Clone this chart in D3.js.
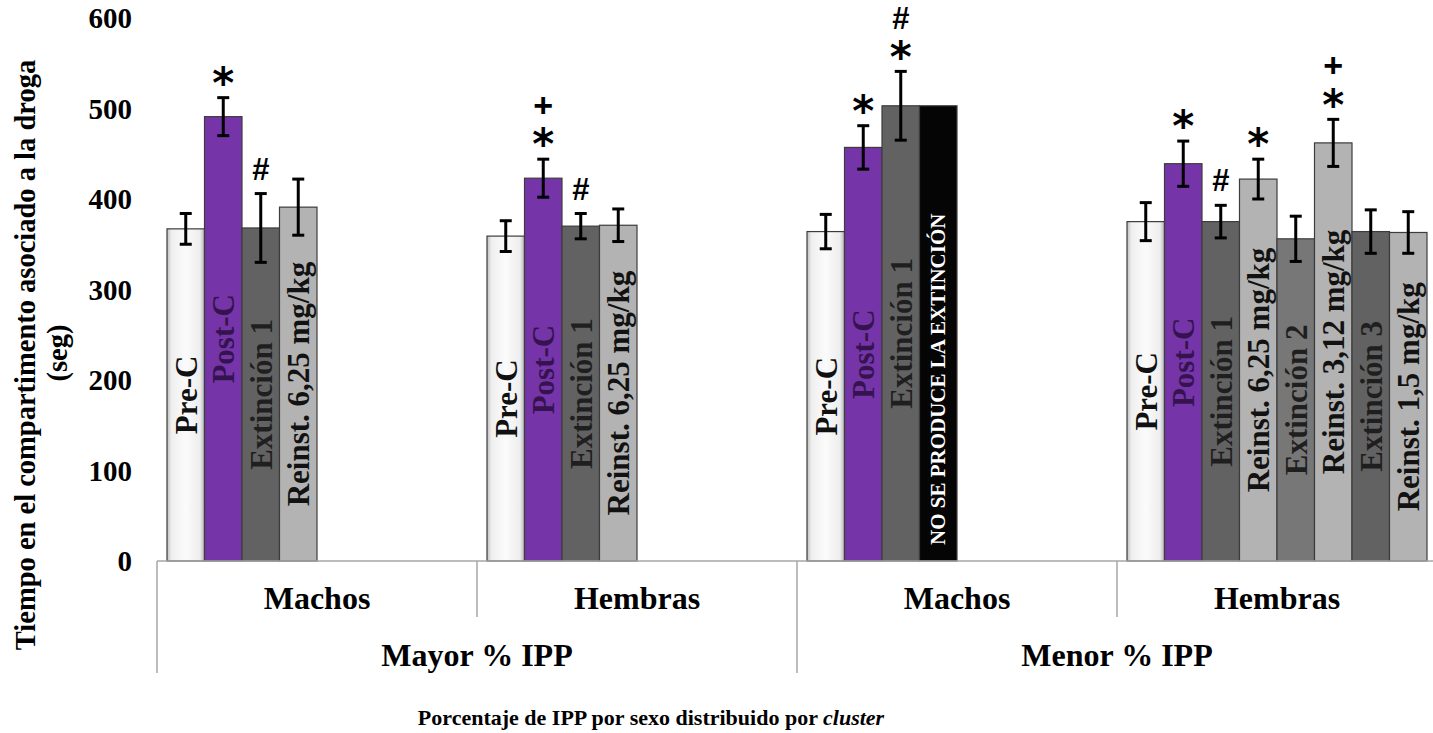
<!DOCTYPE html>
<html>
<head>
<meta charset="utf-8">
<script src="https://cdn.jsdelivr.net/npm/d3@7"></script>
<style>
  html, body { margin: 0; padding: 0; background: #fff; }
  svg { display: block; }
  text { font-family: "Liberation Serif", "Times New Roman", serif; font-weight: bold; }
</style>
</head>
<body>
<svg id="chart"></svg>
<script>
const width = 1433, height = 733;

// categorias del eje x
const sexos = ["Machos", "Hembras", "Machos", "Hembras"];
const clusters = ["Mayor % IPP", "Menor % IPP"];

// fases de cada grupo (etiqueta dentro de la barra)
const fases = [
  ["Pre-C", "Post-C", "Extinción 1", "Reinst. 6,25 mg/kg"],
  ["Pre-C", "Post-C", "Extinción 1", "Reinst. 6,25 mg/kg"],
  ["Pre-C", "Post-C", "Extinción 1", "NO SE PRODUCE LA EXTINCIÓN"],
  ["Pre-C", "Post-C", "Extinción 1", "Reinst. 6,25 mg/kg", "Extinción 2", "Reinst. 3,12 mg/kg", "Extinción 3", "Reinst. 1,5 mg/kg"]
];
const tipos = [
  ["pre", "post", "ext", "rein"],
  ["pre", "post", "ext", "rein"],
  ["pre", "post", "ext", "nada"],
  ["pre", "post", "ext", "rein", "ext2", "rein", "ext", "rein"]
];

// medias (seg) y error estandar
const medias = [
  [367, 491, 368, 391],
  [359, 423, 370, 371],
  [364, 457, 503, 503],
  [375, 439, 375, 422, 356, 462, 364, 363]
];
const errores = [
  [17, 21, 38, 31],
  [17, 21, 14, 18],
  [19, 24, 38, 0],
  [21, 25, 18, 22, 25, 26, 24, 23]
];

// signos de significacion (de abajo hacia arriba)
const marcas = [
  [[], ["*"], ["#"], []],
  [[], ["*", "+"], ["#"], []],
  [[], ["*"], ["*", "#"], []],
  [[], ["*"], ["#"], ["*"], [], ["*", "+"], [], []]
];

const yTicks = [0, 100, 200, 300, 400, 500, 600];

const colores = { pre: "url(#gradPre)", post: "#7535a8", ext: "#626262", ext2: "#777777", rein: "#b3b3b3", nada: "#050505" };
const colorTexto = { pre: "#111111", post: "#35134f", ext: "#1f1f1f", ext2: "#1f1f1f", rein: "#121212", nada: "#ffffff" };

const svg = d3.select("#chart").attr("width", width).attr("height", height);

const defs = svg.append("defs");
const grad = defs.append("linearGradient").attr("id", "gradPre").attr("x1", 0).attr("x2", 1).attr("y1", 0).attr("y2", 0);
[[0, "#bdbdbd"], [0.12, "#efefef"], [0.5, "#fbfbfb"], [0.88, "#ededed"], [1, "#b5b5b5"]].forEach(s => {
  grad.append("stop").attr("offset", s[0]).attr("stop-color", s[1]);
});

const y = d3.scaleLinear().domain([0, 600]).range([561, 18]);
const x0 = d3.scaleBand().domain(d3.range(sexos.length)).range([157, 1437]);
const x1 = d3.scaleBand().domain(d3.range(8)).range([10, x0.bandwidth() - 10]);

const barras = [];
fases.forEach((fs, g) => fs.forEach((f, i) => {
  barras.push({ g, i, fase: f, media: medias[g][i], err: errores[g][i], tipo: tipos[g][i], marcas: marcas[g][i] });
}));
const cx = d => x0(d.g) + x1(d.i) + x1.bandwidth() / 2;

// eje y (solo etiquetas)
const yAxis = svg.append("g")
  .attr("transform", "translate(132,0)")
  .call(d3.axisLeft(y).tickValues(yTicks).tickSize(0).tickPadding(0));
yAxis.select(".domain").remove();
yAxis.selectAll("text")
  .attr("dy", "0.34em")
  .style("font-family", "Liberation Serif")
  .style("font-weight", "bold")
  .style("font-size", "29px")
  .attr("fill", "#000");

// barras
svg.selectAll("rect.barra")
  .data(barras)
  .join("rect")
  .attr("class", "barra")
  .attr("x", d => x0(d.g) + x1(d.i))
  .attr("y", d => y(d.media))
  .attr("width", x1.bandwidth())
  .attr("height", d => y(0) - y(d.media))
  .attr("fill", d => colores[d.tipo])
  .attr("stroke", "#3c3c3c")
  .attr("stroke-width", 1.2);

// etiquetas dentro de las barras
svg.selectAll("text.fase")
  .data(barras)
  .join("text")
  .attr("class", "fase")
  .attr("transform", d => d.tipo === "nada"
    ? `translate(${cx(d)},${y(0) - 16}) rotate(-90)`
    : `translate(${cx(d)},${(y(d.media) + y(0)) / 2}) rotate(-90)`)
  .attr("text-anchor", d => d.tipo === "nada" ? "start" : "middle")
  .attr("y", d => d.tipo === "nada" ? 7 : 11)
  .style("font-size", d => d.tipo === "nada" ? "21px" : "31px")
  .attr("fill", d => colorTexto[d.tipo])
  .text(d => d.fase);

// barras de error
const conError = barras.filter(d => d.err > 0);
const eb = svg.append("g").attr("stroke", "#000").attr("stroke-width", 3);
eb.selectAll("line.v").data(conError).join("line")
  .attr("x1", cx).attr("x2", cx)
  .attr("y1", d => y(d.media + d.err)).attr("y2", d => y(d.media - d.err));
eb.selectAll("line.top").data(conError).join("line")
  .attr("x1", d => cx(d) - 6).attr("x2", d => cx(d) + 6)
  .attr("y1", d => y(d.media + d.err)).attr("y2", d => y(d.media + d.err));
eb.selectAll("line.bot").data(conError).join("line")
  .attr("x1", d => cx(d) - 6).attr("x2", d => cx(d) + 6)
  .attr("y1", d => y(d.media - d.err)).attr("y2", d => y(d.media - d.err));

// signos
const signos = [];
barras.forEach(d => d.marcas.forEach((m, k) => {
  signos.push({ x: cx(d), yc: y(d.media + d.err) - 25 - k * 29, s: m });
}));
const estilo = {
  "*": { font: "DejaVu Sans", size: 42, shift: 0.6 },
  "#": { font: "Liberation Sans", size: 31, shift: 0.36 },
  "+": { font: "Liberation Sans", size: 34, shift: 0.35 }
};
svg.selectAll("text.signo")
  .data(signos)
  .join("text")
  .attr("class", "signo")
  .attr("x", d => d.x)
  .attr("y", d => d.yc + estilo[d.s].shift * estilo[d.s].size)
  .attr("text-anchor", "middle")
  .style("font-family", d => estilo[d.s].font)
  .style("font-size", d => estilo[d.s].size + "px")
  .attr("fill", "#000")
  .text(d => d.s);

// eje de categorias
const ejeX = svg.append("g").attr("stroke", "#a6a6a6").attr("stroke-width", 1.5);
ejeX.append("line").attr("x1", 157).attr("x2", width).attr("y1", y(0)).attr("y2", y(0));
d3.range(sexos.length + 1).forEach(g => {
  const xx = g < sexos.length ? x0(g) : x0(g - 1) + x0.bandwidth();
  ejeX.append("line")
    .attr("x1", xx).attr("x2", xx)
    .attr("y1", y(0)).attr("y2", g % 2 === 0 ? 673 : 617);
});

svg.selectAll("text.sexo")
  .data(sexos)
  .join("text")
  .attr("class", "sexo")
  .attr("x", (d, i) => x0(i) + x0.bandwidth() / 2)
  .attr("y", 609)
  .attr("text-anchor", "middle")
  .style("font-size", "32px")
  .text(d => d);

svg.selectAll("text.cluster")
  .data(clusters)
  .join("text")
  .attr("class", "cluster")
  .attr("x", (d, i) => x0(i * 2) + x0.bandwidth())
  .attr("y", 666)
  .attr("text-anchor", "middle")
  .style("font-size", "32px")
  .text(d => d);

// titulos
const tx = svg.append("text")
  .attr("x", 651).attr("y", 725)
  .attr("text-anchor", "middle")
  .style("font-size", "22px");
tx.append("tspan").text("Porcentaje de IPP por sexo distribuido por ");
tx.append("tspan").style("font-style", "italic").text("cluster");

svg.append("text")
  .attr("transform", "translate(35,355) rotate(-90)")
  .attr("text-anchor", "middle")
  .style("font-size", "28.5px")
  .text("Tiempo en el compartimento asociado a la droga");
svg.append("text")
  .attr("transform", "translate(67,353) rotate(-90)")
  .attr("text-anchor", "middle")
  .style("font-size", "28.5px")
  .text("(seg)");
</script>
</body>
</html>
